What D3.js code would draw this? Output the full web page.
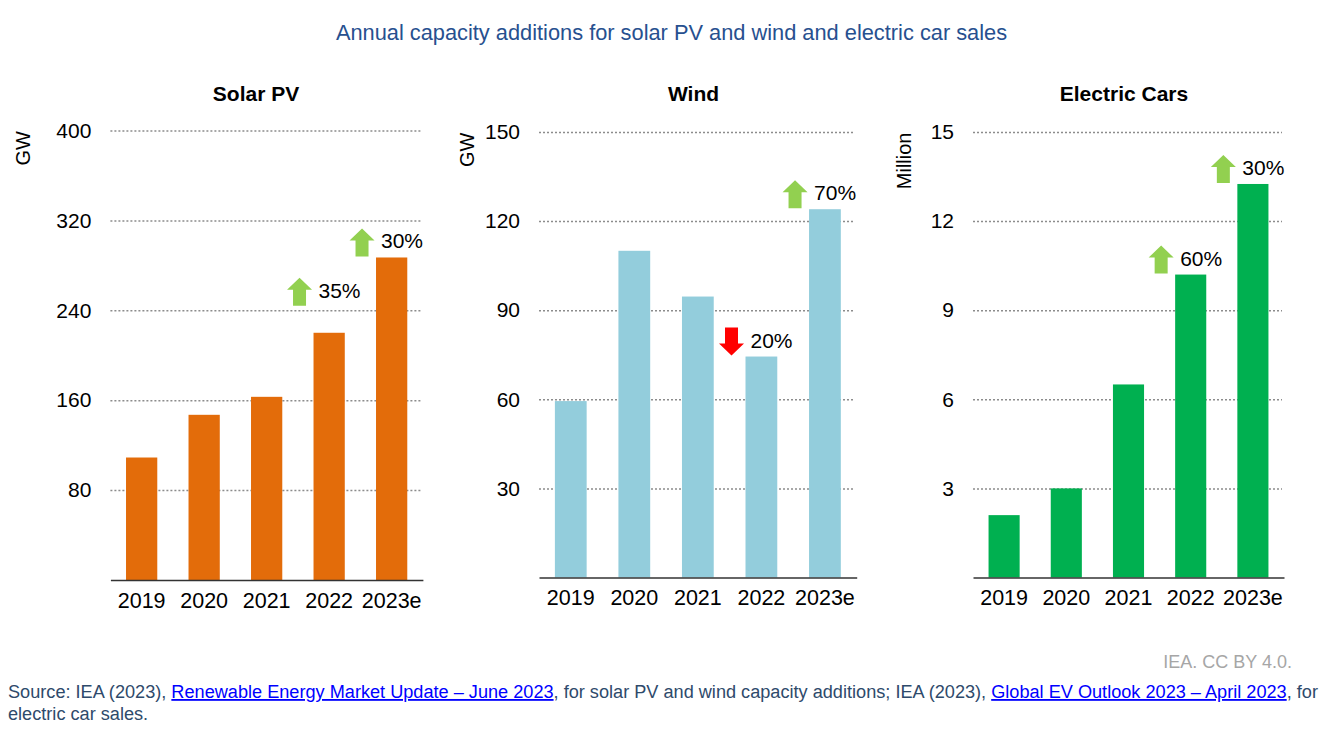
<!DOCTYPE html>
<html>
<head>
<meta charset="utf-8">
<script src="https://cdn.jsdelivr.net/npm/d3@7"></script>
<style>
  body { margin: 0; background: #fff; }
  svg text { font-family: "Liberation Sans", Arial, sans-serif; }
</style>
</head>
<body>
<div id="my_dataviz"></div>
<script>
// data
var years = ["2019", "2020", "2021", "2022", "2023e"];
var solarGW = [109, 147, 163, 220, 287];
var windGW = [59.4, 110, 94.6, 74.4, 124];
var evMillion = [2.1, 3.0, 6.5, 10.2, 13.25];

var solarTicks = [80, 160, 240, 320, 400];
var windTicks = [30, 60, 90, 120, 150];
var evTicks = [3, 6, 9, 12, 15];

var solarNotes = [{year: "2022", text: "35%", dir: "up"}, {year: "2023e", text: "30%", dir: "up"}];
var windNotes = [{year: "2022", text: "20%", dir: "down"}, {year: "2023e", text: "70%", dir: "up"}];
var evNotes = [{year: "2022", text: "60%", dir: "up"}, {year: "2023e", text: "30%", dir: "up"}];

var width = 1330, height = 735;

var svg = d3.select("#my_dataviz")
  .append("svg")
    .attr("width", width)
    .attr("height", height);

// main title
svg.append("text")
  .attr("x", 671.5)
  .attr("y", 40)
  .attr("text-anchor", "middle")
  .attr("fill", "#27508f")
  .style("font-size", "21.8px")
  .text("Annual capacity additions for solar PV and wind and electric car sales");

function drawPanel(cfg) {
  var g = svg.append("g");

  var x = d3.scaleBand()
    .domain(years)
    .range([cfg.x0, cfg.x1])
    .paddingInner(0.5)
    .paddingOuter(0.25);

  var y = d3.scaleLinear()
    .domain([0, d3.max(cfg.ticks)])
    .range([cfg.yBase, cfg.yTop]);

  // panel title
  g.append("text")
    .attr("x", cfg.titleX)
    .attr("y", 101)
    .attr("text-anchor", "middle")
    .style("font-size", "21px")
    .style("font-weight", "bold")
    .text(cfg.title);

  // unit label
  g.append("text")
    .attr("transform", "translate(" + cfg.unitX + "," + (cfg.yTop + 0.5) + ")rotate(-90)")
    .attr("text-anchor", "end")
    .style("font-size", "20px")
    .text(cfg.unit);

  // y axis with dotted gridlines
  var yAxis = g.append("g")
    .attr("transform", "translate(" + cfg.x0 + ",0)")
    .call(d3.axisLeft(y)
      .tickValues(cfg.ticks)
      .tickSize(-(cfg.x1 - cfg.x0 - 2))
      .tickPadding(19));
  yAxis.select(".domain").remove();
  yAxis.selectAll(".tick line")
    .attr("stroke", "#8c8c8c")
    .attr("stroke-width", 1.5)
    .attr("stroke-dasharray", "2,2");
  yAxis.selectAll(".tick text")
    .attr("fill", "#000")
    .style("font-size", "21px")
    .style("font-family", "'Liberation Sans', Arial, sans-serif");

  // bars
  g.selectAll("mybar")
    .data(cfg.values)
    .enter()
    .append("rect")
      .attr("x", function(d, i) { return x(years[i]); })
      .attr("y", function(d) { return y(d); })
      .attr("width", x.bandwidth())
      .attr("height", function(d) { return cfg.yBase - y(d); })
      .attr("fill", cfg.color);

  // x axis
  var xAxis = g.append("g")
    .attr("transform", "translate(0," + cfg.yBase + ")")
    .call(d3.axisBottom(x).tickSize(0).tickPadding(12.4));
  xAxis.select(".domain")
    .attr("stroke", "#333")
    .attr("stroke-width", 1.5);
  xAxis.selectAll(".tick text")
    .attr("fill", "#000")
    .style("font-size", "21.5px")
    .style("font-family", "'Liberation Sans', Arial, sans-serif");

  // growth arrows
  var aw = 25, ah = 28, headH = 12, shaftW = 13;
  cfg.notes.forEach(function(n) {
    var i = years.indexOf(n.year);
    var bx = x(n.year);
    var bottom = y(cfg.values[i]) - 1 - (cfg.lift[n.year] || 0);
    var cx = bx - 1.5 - aw / 2;
    var top = bottom - ah;
    var pts;
    if (n.dir === "up") {
      pts = [[cx - shaftW / 2, bottom], [cx - shaftW / 2, top + headH], [cx - aw / 2, top + headH],
             [cx, top], [cx + aw / 2, top + headH], [cx + shaftW / 2, top + headH], [cx + shaftW / 2, bottom]];
    } else {
      pts = [[cx - shaftW / 2, top], [cx - shaftW / 2, bottom - headH], [cx - aw / 2, bottom - headH],
             [cx, bottom], [cx + aw / 2, bottom - headH], [cx + shaftW / 2, bottom - headH], [cx + shaftW / 2, top]];
    }
    g.append("path")
      .attr("d", d3.line()(pts) + "Z")
      .attr("fill", n.dir === "up" ? "#92d050" : "#ff0000");
    g.append("text")
      .attr("x", bx + 5)
      .attr("y", bottom - 8)
      .style("font-size", "21px")
      .text(n.text);
  });
}

drawPanel({title: "Solar PV", unit: "GW", values: solarGW, ticks: solarTicks, notes: solarNotes,
  color: "#e36c0a", x0: 110.4, x1: 422.9, yTop: 130.5, yBase: 580, titleX: 256, unitX: 30,
  lift: {"2022": 26}});
drawPanel({title: "Wind", unit: "GW", values: windGW, ticks: windTicks, notes: windNotes,
  color: "#93cddc", x0: 539, x1: 856.7, yTop: 132, yBase: 577.5, titleX: 693.5, unitX: 473.5,
  lift: {}});
drawPanel({title: "Electric Cars", unit: "Million", values: evMillion, ticks: evTicks, notes: evNotes,
  color: "#00b050", x0: 973, x1: 1284, yTop: 132, yBase: 577.5, titleX: 1124, unitX: 910.5,
  lift: {}});

// footer
svg.append("text")
  .attr("x", 1292)
  .attr("y", 668)
  .attr("text-anchor", "end")
  .attr("fill", "#a6a6a6")
  .style("font-size", "18px")
  .text("IEA. CC BY 4.0.");

var src = svg.append("text")
  .attr("x", 8)
  .attr("y", 698)
  .attr("fill", "#2e4a6b")
  .style("font-size", "18.15px");
src.append("tspan").text("Source: IEA (2023), ");
src.append("tspan").attr("fill", "#0000ff").style("text-decoration", "underline")
  .text("Renewable Energy Market Update \u2013 June 2023");
src.append("tspan").text(", for solar PV and wind capacity additions; IEA (2023), ");
src.append("tspan").attr("fill", "#0000ff").style("text-decoration", "underline")
  .text("Global EV Outlook 2023 \u2013 April 2023");
src.append("tspan").text(", for");

svg.append("text")
  .attr("x", 8)
  .attr("y", 720)
  .attr("fill", "#2e4a6b")
  .style("font-size", "18.15px")
  .text("electric car sales.");
</script>
</body>
</html>
